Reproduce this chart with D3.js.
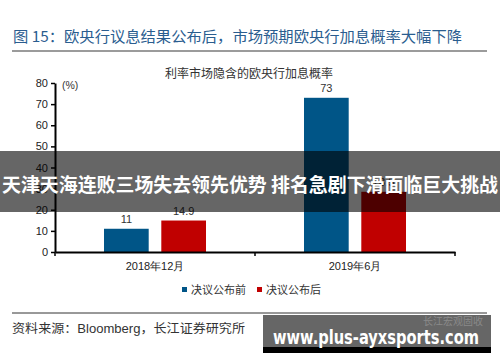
<!DOCTYPE html>
<html><head><meta charset="utf-8">
<script src="https://cdn.jsdelivr.net/npm/d3@7/dist/d3.min.js"></script>
<style>
html,body{margin:0;padding:0;background:#fff;}
svg{display:block;font-family:"Liberation Sans","Noto Sans CJK SC",sans-serif;}
</style></head>
<body>
<svg id="chart" width="500" height="362"></svg>
<script>
const categories = ["2018年12月", "2019年6月"];
const seriesNames = ["决议公布前", "决议公布后"];
const seriesColors = ["#005587", "#c00000"];
const valuesBefore = [11, 73];
const valuesAfter = [14.9, 28.5];
const yTicks = [0, 10, 20, 30, 40, 50, 60, 70, 80];
const headerText = "图 15：欧央行议息结果公布后，市场预期欧央行加息概率大幅下降";
const chartTitle = "利率市场隐含的欧央行加息概率";
const unitLabel = "(%)";
const sourceText = "资料来源：Bloomberg，长江证券研究所";
const bannerText = "天津天海连败三场失去领先优势 排名急剧下滑面临巨大挑战";
const watermarkText = "www.plus-ayxsports.com";
const watermarkSub = "长江宏观固收";

const svg = d3.select("#chart");
const series = [valuesBefore, valuesAfter];

// header
svg.append("text").attr("x", 13).attr("y", 42).attr("fill", "#2a5d8f")
  .attr("font-size", 15).attr("font-family", "'Noto Sans CJK SC',sans-serif")
  .attr("textLength", 449).attr("lengthAdjust", "spacingAndGlyphs")
  .text(headerText);
svg.append("line").attr("x1", 12).attr("x2", 487).attr("y1", 51).attr("y2", 51)
  .attr("stroke", "#7a7a7a").attr("stroke-width", 1.5);

// title
svg.append("text").attr("x", 249).attr("y", 78).attr("text-anchor", "middle")
  .attr("font-size", 12).attr("fill", "#333").text(chartTitle);

const x = d3.scaleBand().domain(categories).range([55, 455]).paddingInner(0).paddingOuter(0);
const x1 = d3.scaleBand().domain(seriesNames).range([49, 151]).paddingInner(0.22).paddingOuter(0);
const y = d3.scaleLinear().domain([0, 80]).range([252, 83]);

// bars
const g = svg.append("g");
categories.forEach((c, ci) => {
  seriesNames.forEach((s, si) => {
    const v = series[si][ci];
    g.append("rect")
      .attr("x", x(c) + x1(s))
      .attr("y", y(v))
      .attr("width", x1.bandwidth())
      .attr("height", y(0) - y(v))
      .attr("fill", seriesColors[si]);
    g.append("text")
      .attr("x", x(c) + x1(s) + x1.bandwidth() / 2)
      .attr("y", y(v) - 6)
      .attr("text-anchor", "middle")
      .attr("font-size", 11).attr("fill", "#333")
      .text(v);
  });
});

// y axis
const yAxis = d3.axisLeft(y).tickValues(yTicks).tickSize(4).tickSizeOuter(0).tickPadding(3);
const ya = svg.append("g").attr("transform", "translate(55,0)").call(yAxis);
ya.select(".domain").attr("stroke", "#000").attr("stroke-width", 2);
ya.selectAll(".tick line").attr("stroke", "#000").attr("stroke-width", 1.5);
ya.selectAll(".tick text").attr("font-size", 11).attr("fill", "#222")
  .attr("font-family", "'Liberation Sans',sans-serif");

svg.append("text").attr("x", 62).attr("y", 89).attr("font-size", 10.5)
  .attr("fill", "#333").text(unitLabel);

// x axis
const xAxis = d3.axisBottom(x).tickSize(0).tickPadding(10);
const xa = svg.append("g").attr("transform", "translate(0,252)").call(xAxis);
xa.select(".domain").attr("stroke", "#000").attr("stroke-width", 2);
xa.selectAll(".tick text").attr("font-size", 11).attr("fill", "#222");
[55, 255, 455].forEach(px => {
  xa.append("line").attr("x1", px).attr("x2", px).attr("y1", 0).attr("y2", 4)
    .attr("stroke", "#000").attr("stroke-width", 1.5);
});

// legend
const legendX = [182, 257];
seriesNames.forEach((s, i) => {
  svg.append("rect").attr("x", legendX[i]).attr("y", 287).attr("width", 5).attr("height", 5)
    .attr("fill", seriesColors[i]);
  svg.append("text").attr("x", legendX[i] + 9).attr("y", 294).attr("font-size", 11)
    .attr("fill", "#333").text(s);
});

// footer
svg.append("line").attr("x1", 12).attr("x2", 487).attr("y1", 313).attr("y2", 313)
  .attr("stroke", "#333").attr("stroke-width", 1);
svg.append("text").attr("x", 12).attr("y", 333).attr("font-size", 12.5)
  .attr("fill", "#333").attr("textLength", 233).attr("lengthAdjust", "spacingAndGlyphs")
  .text(sourceText);

// banner overlay
svg.append("rect").attr("x", 0).attr("y", 151).attr("width", 500).attr("height", 61)
  .attr("fill", "#000").attr("opacity", 0.6);
svg.append("text").attr("x", 250).attr("y", 192).attr("text-anchor", "middle")
  .attr("font-size", 19).attr("font-weight", "bold").attr("fill", "#fff")
  .attr("font-family", "'Noto Sans CJK SC',sans-serif")
  .attr("textLength", 496).attr("lengthAdjust", "spacingAndGlyphs")
  .text(bannerText);

// watermark
svg.append("rect").attr("x", 263).attr("y", 315).attr("width", 228).attr("height", 33)
  .attr("fill", "#666");
svg.append("rect").attr("x", 263).attr("y", 347).attr("width", 228).attr("height", 6)
  .attr("fill", "#000");
svg.append("text").attr("x", 483).attr("y", 325).attr("text-anchor", "end")
  .attr("font-size", 10).attr("fill", "#8a8a8a")
  .attr("font-family", "'Noto Sans CJK SC',sans-serif").text(watermarkSub);
svg.append("text").attr("x", 376).attr("y", 344).attr("text-anchor", "middle")
  .attr("font-size", 19).attr("font-weight", "bold").attr("fill", "#fff")
  .attr("font-family", "'DejaVu Sans',sans-serif")
  .attr("textLength", 206).attr("lengthAdjust", "spacingAndGlyphs")
  .text(watermarkText);
</script>
</body></html>
